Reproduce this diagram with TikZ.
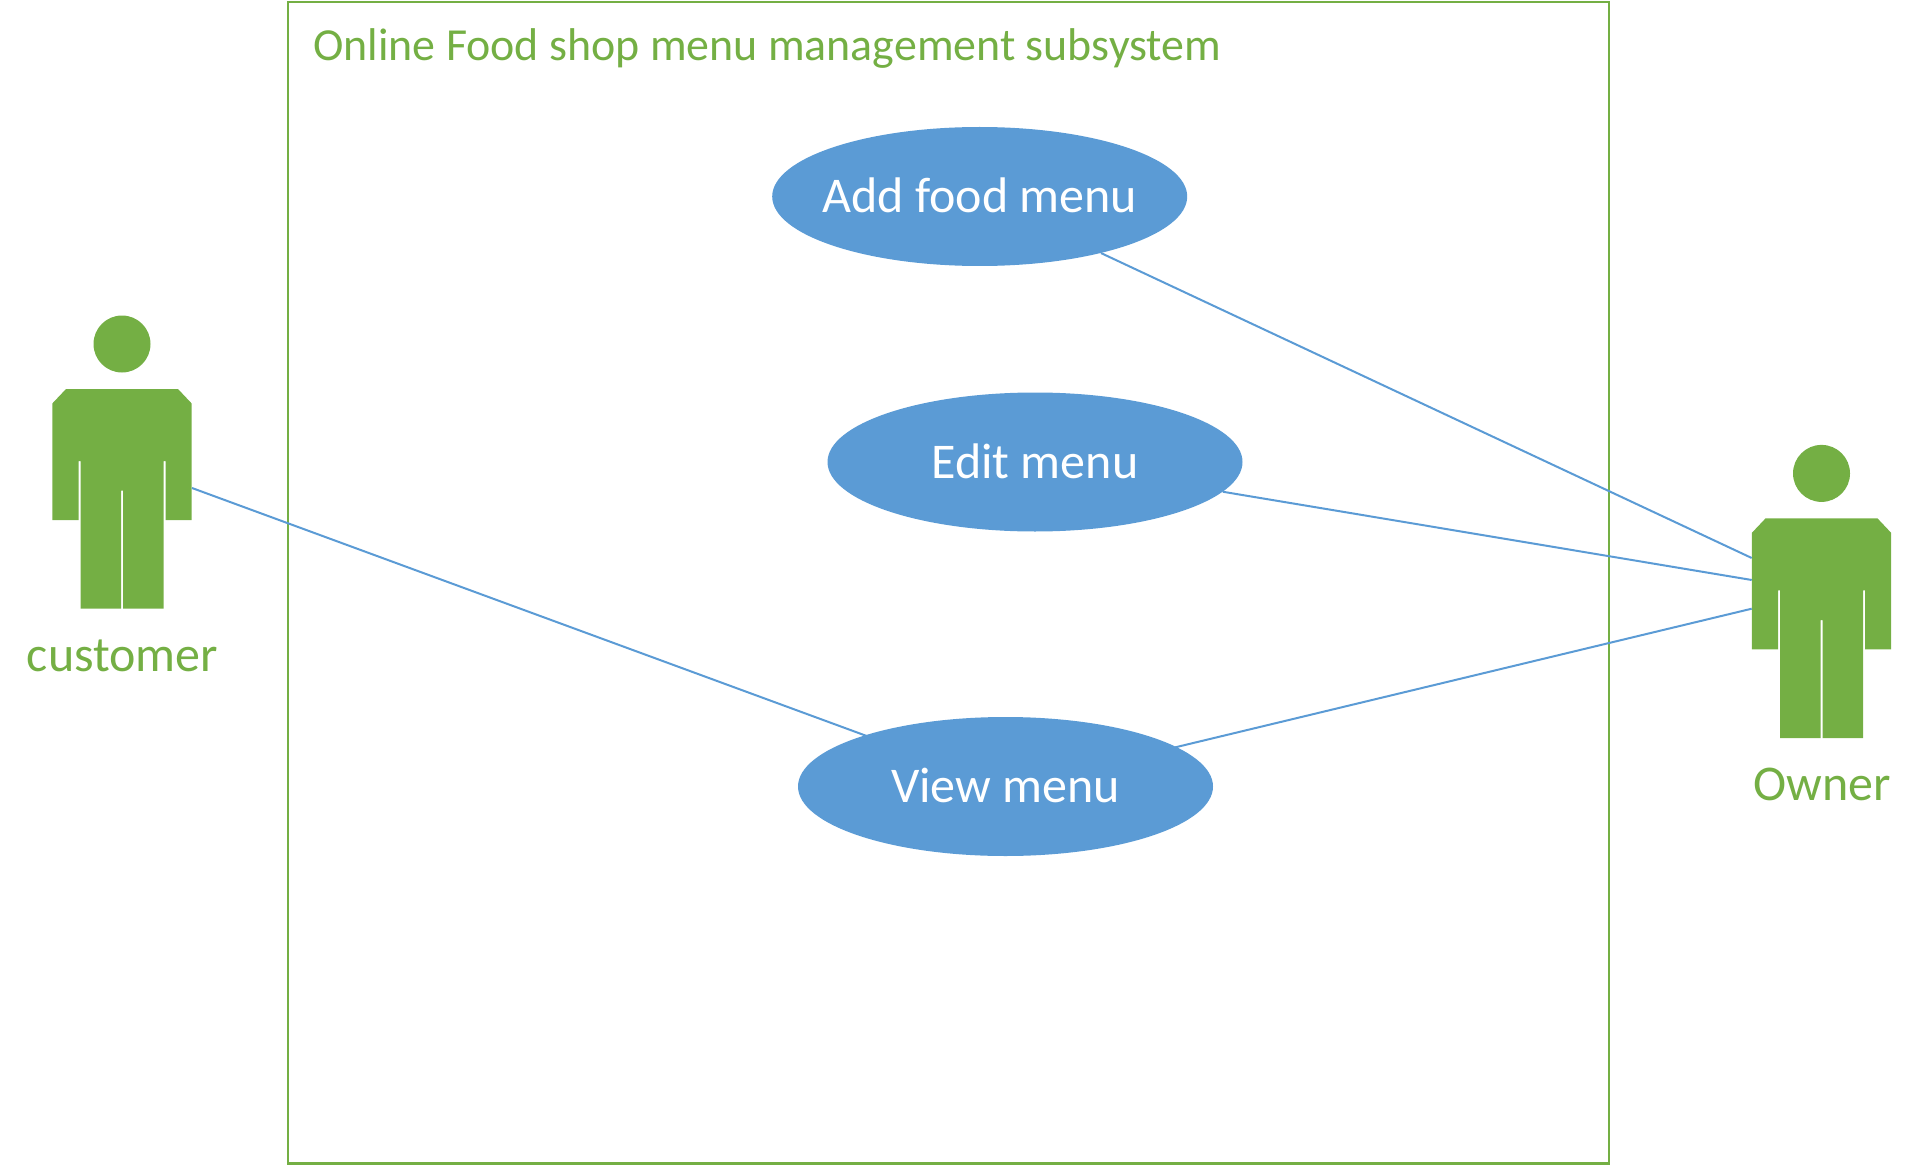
\documentclass[tikz,border=0pt]{standalone}
\usepackage{fontspec}
\setmainfont{Carlito}
\usetikzlibrary{shapes.geometric}
\definecolor{actorgreen}{HTML}{74AF44}
\definecolor{usecaseblue}{HTML}{5B9BD5}
\tikzset{
  usecase/.style={ellipse,fill=usecaseblue,draw=none,inner sep=0pt,minimum width=415pt,minimum height=139pt,text=white,font=\fontsize{50}{60}\selectfont,text height=32pt,text depth=0pt},
  assoc/.style={draw=usecaseblue,line width=2pt},
  label text/.style={text=actorgreen,inner sep=0pt,anchor=base},
  actor/.pic={
    \fill[actorgreen] (0,-50) circle (28.5);
    \fill[actorgreen] (-69.7,9.5) -- (-56,-5) -- (56,-5) -- (69.7,9.5) -- (69.7,126) -- (43.7,126) -- (43.7,67) -- (41.7,67) -- (41.7,214.7) -- (1,214.7) -- (1,96.7) -- (-1,96.7) -- (-1,214.7) -- (-41.3,214.7) -- (-41.3,67) -- (-43.3,67) -- (-43.3,126) -- (-69.7,126) -- cycle;
  }
}
\begin{document}
\begin{tikzpicture}[x=1pt,y=-1pt]
\useasboundingbox (0,0) rectangle (1916,1166);
\node[draw=actorgreen,line width=2.4pt,inner sep=0pt,minimum width=1321.5pt,minimum height=1161.5pt,anchor=north west] (frame) at (286.5,0.7) {};
\node[label text,anchor=base west,font=\fontsize{45.9}{55}\selectfont] (title) at (313,60.5) {Online Food shop menu management subsystem};
\node[usecase] (add) at (979.7,196.5) {\makebox[0pt]{Add food menu}};
\node[usecase] (edit) at (1035,462) {\makebox[0pt]{Edit menu}};
\node[usecase] (view) at (1005.5,786.5) {\makebox[0pt]{View menu}};
\pic at (122,394) {actor};
\pic at (1821.5,523.4) {actor};
\node[label text,font=\fontsize{50}{60}\selectfont] (customer) at (122.5,671.7) {customer};
\node[label text,font=\fontsize{50}{60}\selectfont] (owner) at (1822,800.5) {Owner};
\coordinate (customerhand) at (192,488);
\coordinate (ownerA) at (1751.7,558);
\coordinate (ownerB) at (1751.7,580);
\coordinate (ownerC) at (1751.7,608.7);
\draw[assoc,shorten >=-4.5pt] (customerhand) -- (view.160);
\draw[assoc] (add.-25) -- (ownerA);
\draw[assoc] (edit.-9.5) -- (ownerB);
\draw[assoc,shorten <=-1.5pt] (view.13.7) -- (ownerC);
\end{tikzpicture}
\end{document}
